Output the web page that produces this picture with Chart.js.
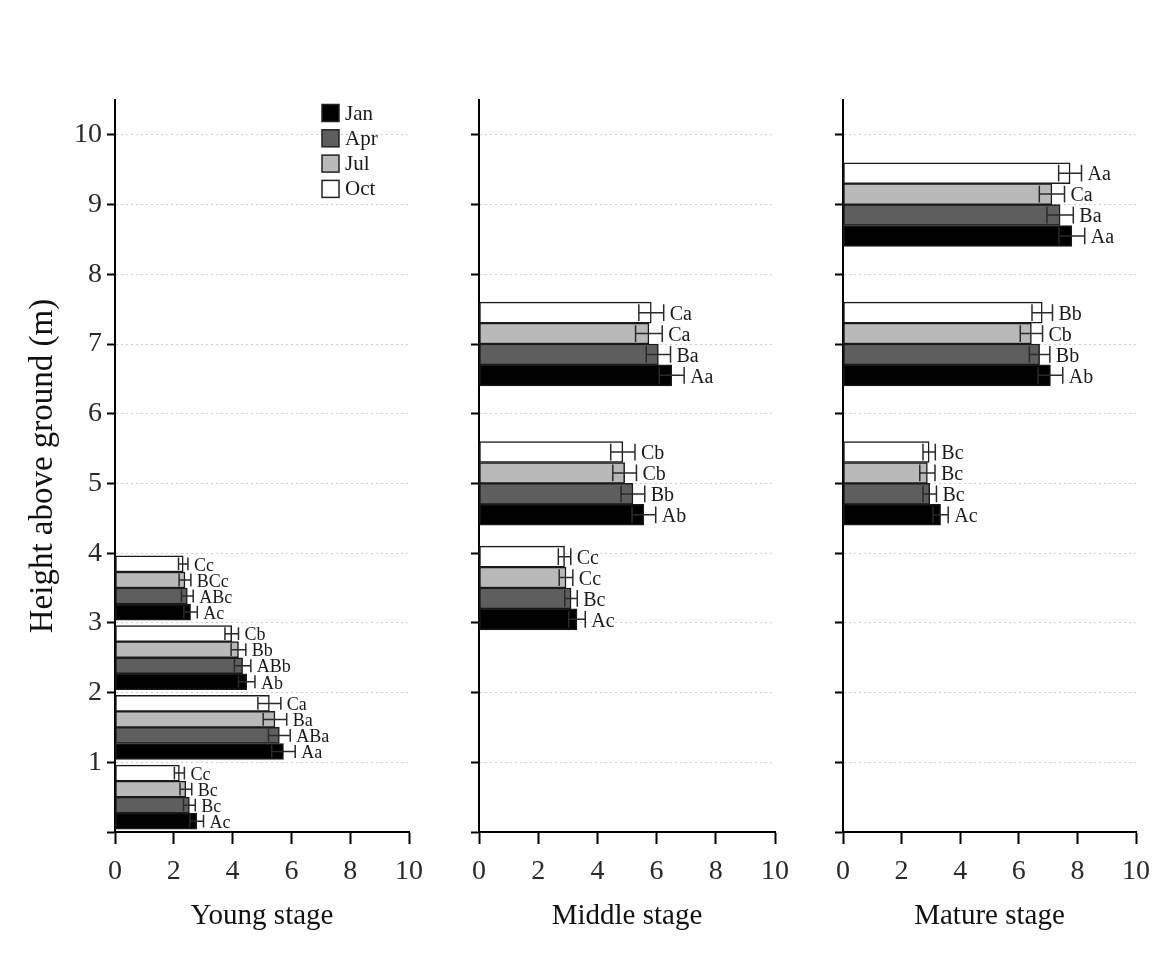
<!DOCTYPE html>
<html>
<head>
<meta charset="utf-8">
<script src="https://cdn.jsdelivr.net/npm/chart.js@4.4.1/dist/chart.umd.min.js"></script>
<style>
  html, body { margin: 0; padding: 0; background: #fff; }
  #wrap { position: relative; width: 1161px; height: 974px; overflow: hidden; }
  canvas { position: absolute; top: 0; }
</style>
</head>
<body>
<div id="wrap">
  <canvas id="young" width="440" height="974" style="left:0px"></canvas>
  <canvas id="middle" width="360" height="974" style="left:440px"></canvas>
  <canvas id="mature" width="361" height="974" style="left:800px"></canvas>
</div>
<script>
// --- data (rows = month, columns = height class) ---
const months = ['Jan', 'Apr', 'Jul', 'Oct'];
const xTickValues = [0, 2, 4, 6, 8, 10];
const yTickValues = [0, 1, 2, 3, 4, 5, 6, 7, 8, 9, 10];

const youngHeights = [0.5, 1.5, 2.5, 3.5];
const youngMean = [
  [2.78, 5.73, 4.48, 2.57],
  [2.53, 5.59, 4.34, 2.46],
  [2.41, 5.44, 4.20, 2.38],
  [2.19, 5.25, 3.97, 2.32]
];
const youngErr = [
  [0.23, 0.40, 0.28, 0.23],
  [0.20, 0.37, 0.28, 0.20],
  [0.20, 0.40, 0.25, 0.20],
  [0.17, 0.39, 0.23, 0.16]
];
const youngLetters = [
  ['Ac', 'Aa', 'Ab', 'Ac'],
  ['Bc', 'ABa', 'ABb', 'ABc'],
  ['Bc', 'Ba', 'Bb', 'BCc'],
  ['Cc', 'Ca', 'Cb', 'Cc']
];

const middleHeights = [3.5, 5, 7];
const middleMean = [
  [3.31, 5.57, 6.51],
  [3.11, 5.20, 6.06],
  [2.94, 4.92, 5.74],
  [2.89, 4.86, 5.82]
];
const middleErr = [
  [0.28, 0.40, 0.42],
  [0.21, 0.40, 0.41],
  [0.23, 0.40, 0.45],
  [0.21, 0.41, 0.42]
];
const middleLetters = [
  ['Ac', 'Ab', 'Aa'],
  ['Bc', 'Bb', 'Ba'],
  ['Cc', 'Cb', 'Ca'],
  ['Cc', 'Cb', 'Ca']
];

const matureHeights = [5, 7, 9];
const matureMean = [
  [3.33, 7.08, 7.81],
  [2.96, 6.71, 7.41],
  [2.88, 6.43, 7.13],
  [2.94, 6.80, 7.75]
];
const matureErr = [
  [0.26, 0.42, 0.44],
  [0.23, 0.35, 0.45],
  [0.26, 0.38, 0.43],
  [0.21, 0.35, 0.39]
];
const matureLetters = [
  ['Ac', 'Ab', 'Aa'],
  ['Bc', 'Bb', 'Ba'],
  ['Bc', 'Cb', 'Ca'],
  ['Bc', 'Bb', 'Aa']
];

// --- styles ---
const SERIF = '"Liberation Serif", "DejaVu Serif", serif';
const monthColors = ['#000000', '#5e5e5e', '#b9b9b9', '#ffffff'];
Chart.defaults.font.family = SERIF;
Chart.defaults.color = '#222';

// error bars + significance letters
const errorLetters = {
  id: 'errorLetters',
  afterDatasetsDraw(chart, args, opts) {
    const ctx = chart.ctx;
    const xs = chart.scales.x;
    ctx.save();
    ctx.font = opts.fontSize + 'px ' + SERIF;
    ctx.textBaseline = 'middle';
    ctx.textAlign = 'left';
    chart.data.datasets.forEach((ds, d) => {
      const meta = chart.getDatasetMeta(d);
      meta.data.forEach((bar, i) => {
        const raw = ds.data[i];
        const x0 = xs.getPixelForValue(raw.x - raw.err);
        const x1 = xs.getPixelForValue(raw.x + raw.err);
        const y = bar.y;
        const half = bar.height * 0.4;
        ctx.strokeStyle = '#2a2a2a';
        ctx.lineWidth = 1.5;
        ctx.beginPath();
        ctx.moveTo(x0, y); ctx.lineTo(x1, y);
        ctx.moveTo(x0, y - half); ctx.lineTo(x0, y + half);
        ctx.moveTo(x1, y - half); ctx.lineTo(x1, y + half);
        ctx.stroke();
        ctx.fillStyle = '#1a1a1a';
        ctx.fillText(raw.letter, x1 + 6, y + 2);
      });
    });
    ctx.restore();
  }
};

// small legend inside the first panel
const cornerLegend = {
  id: 'cornerLegend',
  afterDraw(chart) {
    const ctx = chart.ctx;
    const a = chart.chartArea;
    const bx = a.left + 207;
    ctx.save();
    ctx.font = '21px ' + SERIF;
    ctx.textBaseline = 'middle';
    chart.data.datasets.forEach((ds, d) => {
      const cy = a.top + 13 + d * 25.3;
      ctx.fillStyle = ds.backgroundColor;
      ctx.fillRect(bx, cy - 8.5, 17, 17);
      ctx.strokeStyle = '#222';
      ctx.lineWidth = 1.5;
      ctx.strokeRect(bx, cy - 8.5, 17, 17);
      ctx.fillStyle = '#1a1a1a';
      ctx.fillText(ds.label, bx + 23, cy + 1);
    });
    ctx.restore();
  }
};

function makePanel(id, cfg) {
  const datasets = months.map((m, mi) => ({
    label: m,
    backgroundColor: monthColors[mi],
    borderColor: '#1a1a1a',
    borderWidth: 1.5,
    borderSkipped: false,
    data: cfg.heights.map((h, k) => ({
      x: cfg.mean[mi][k],
      y: h + (mi - 1.5) * cfg.band,
      err: cfg.err[mi][k],
      letter: cfg.letters[mi][k]
    }))
  }));

  return new Chart(document.getElementById(id), {
    type: 'bar',
    data: { datasets },
    plugins: cfg.legend ? [errorLetters, cornerLegend] : [errorLetters],
    options: {
      indexAxis: 'y',
      responsive: false,
      animation: false,
      layout: { padding: { top: 100, right: cfg.rightPad, bottom: 34, left: 0 } },
      datasets: { bar: { grouped: false, categoryPercentage: 1, barPercentage: 1 } },
      plugins: {
        legend: { display: false },
        tooltip: { enabled: false },
        errorLetters: { fontSize: cfg.letterSize }
      },
      scales: {
        x: {
          type: 'linear',
          min: 0, max: 10,
          afterBuildTicks: s => { s.ticks = xTickValues.map(v => ({ value: v })); },
          afterFit: s => { s.height = 108; },
          ticks: { font: { size: 28 }, padding: 11, maxRotation: 0, color: '#2a2a2a' },
          grid: { drawOnChartArea: false, tickLength: 12, tickColor: '#000', tickWidth: 2 },
          border: { color: '#000', width: 2 },
          title: {
            display: true, text: cfg.title, color: '#111',
            font: { size: 29 }, padding: { top: 4, bottom: 6 }
          }
        },
        y: {
          type: 'linear',
          min: 0, max: 10.5,
          offset: false,
          afterBuildTicks: s => { s.ticks = yTickValues.map(v => ({ value: v })); },
          afterFit: s => { s.width = cfg.yWidth; },
          ticks: {
            font: { size: 28 }, padding: 5, color: '#2a2a2a',
            callback: v => (cfg.showLabels && v !== 0) ? String(v) : ''
          },
          grid: {
            offset: false,
            color: c => (c.tick && c.tick.value === 0) ? 'rgba(0,0,0,0)' : '#cdcdcd',
            lineWidth: 1, tickLength: 8, tickColor: '#000', tickWidth: 2
          },
          border: { color: '#000', width: 2, dash: [2, 3] },
          title: {
            display: cfg.showLabels, text: 'Height above ground (m)', color: '#111',
            font: { size: 33 }, padding: { top: 24, bottom: 0 }
          }
        }
      }
    }
  });
}

makePanel('young', {
  title: 'Young stage', heights: youngHeights, mean: youngMean, err: youngErr,
  letters: youngLetters, band: 0.23, showLabels: true, legend: true,
  yWidth: 115, rightPad: 31, letterSize: 18
});
makePanel('middle', {
  title: 'Middle stage', heights: middleHeights, mean: middleMean, err: middleErr,
  letters: middleLetters, band: 0.3, showLabels: false, legend: false,
  yWidth: 39, rightPad: 25, letterSize: 20
});
makePanel('mature', {
  title: 'Mature stage', heights: matureHeights, mean: matureMean, err: matureErr,
  letters: matureLetters, band: 0.3, showLabels: false, legend: false,
  yWidth: 43, rightPad: 22, letterSize: 20
});
</script>
</body>
</html>
